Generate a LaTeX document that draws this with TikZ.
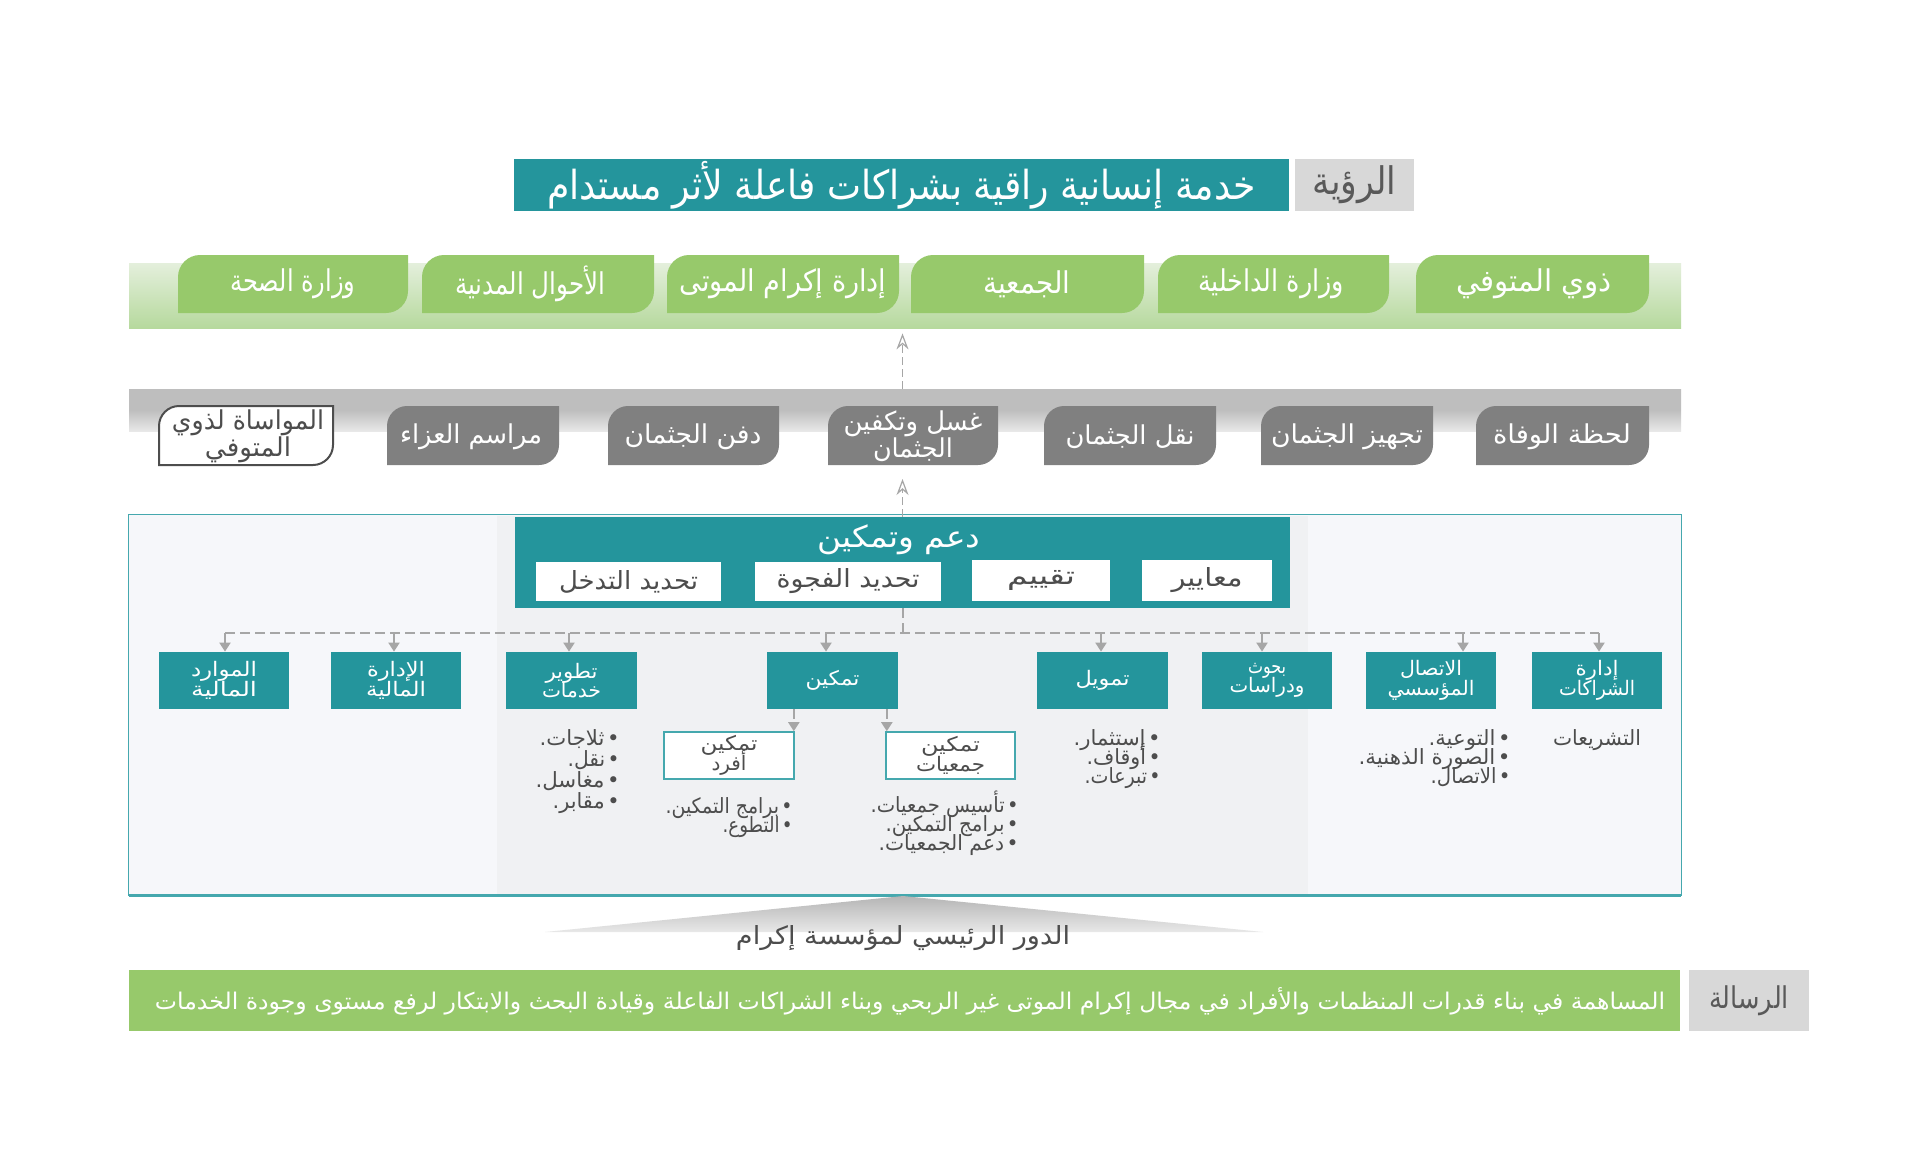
\documentclass[tikz,border=0pt]{standalone}
\usepackage{fontspec}
\usepackage{graphicx}
\usetikzlibrary{arrows.meta,fit}
\newfontfamily\arabicfont[Script=Arabic]{DejaVu Sans}
\TeXXeTstate=1
\newdimen\px \px=0.5pt
\newcommand\ar[1]{{\arabicfont\beginR #1\endR}}
\newcommand\sq[2]{\resizebox{#1\px}{\height}{\ar{#2}}}
\newcommand\fs[2]{\fontsize{#1}{#2}\selectfont\lineskiplimit=-100pt\relax}
\newcommand\bu{•\kern0.12em}
\newcommand\tabpath[5]{({#1},{#4}) -- ({#1},{#2+#5}) .. controls ({#1},{#2+0.45*#5}) and ({#1+0.45*#5},{#2}) .. ({#1+#5},{#2}) -- ({#3},{#2}) -- ({#3},{#4-#5}) .. controls ({#3},{#4-0.45*#5}) and ({#3-0.45*#5},{#4}) .. ({#3-#5},{#4}) -- cycle}
\definecolor{teal1}{HTML}{24959C}
\definecolor{tgreen}{HTML}{97C96B}
\definecolor{tgrey}{HTML}{808080}
\definecolor{lgrey}{HTML}{D8D8D8}
\definecolor{lbltxt}{HTML}{595959}
\definecolor{frameline}{HTML}{45A8AE}
\definecolor{framebg}{HTML}{F6F7FA}
\definecolor{innerbg}{HTML}{F0F1F3}
\definecolor{dgrey}{HTML}{A6A6A6}
\definecolor{txtdark}{HTML}{4D4D4D}
\definecolor{gbartop}{HTML}{E4EFDC}
\definecolor{gbarbot}{HTML}{B6D99D}
\definecolor{sbartop}{HTML}{BEBEBE}
\definecolor{sbarbot}{HTML}{E8E8E8}
\definecolor{tritop}{HTML}{B5B5B5}
\definecolor{tribot}{HTML}{E8E8E8}
\tikzset{
  shp/.style={inner sep=0},
  txt/.style={inner sep=0, align=center},
  gtabtxt/.style={txt, text=white, font=\fs{15}{16}},
  stabtxt/.style={txt, text=white, font=\fs{13}{13.5}},
  tealtxt/.style={txt, text=white, font=\fs{10}{9.7}},
  subtxt/.style={txt, text=txtdark, font=\fs{10}{10}},
  whitetxt/.style={txt, text=txtdark, font=\fs{12.5}{13}},
  bul/.style={inner sep=0, text=txtdark, font=\fs{10.5}{10.5}, text height=7pt, text depth=2pt},
  dline/.style={draw=dgrey, line width=1pt, dash pattern=on 5pt off 2.5pt},
  darr/.style={dline, -{Triangle[length=4.5pt,width=5.5pt]}},
  uparr/.style={draw=dgrey, line width=0.6pt, dash pattern=on 4pt off 2pt, -{Stealth[length=8pt,width=6pt,open]}},
}
\begin{document}
\begin{tikzpicture}[x=0.5pt,y=-0.5pt]
\fill[white] (0,0) rectangle (1920,1148);
\useasboundingbox (0,0) rectangle (1920,1148);

% Vision
\node[shp, fit={(514,159)(1289,211)}, fill=teal1] (vis) {};
\node[txt, text=white, font=\fs{20}{22}] (vist) at (vis.center) {\sq{708}{خدمة إنسانية راقية بشراكات فاعلة لأثر مستدام}};
\node[shp, fit={(1295,159)(1414,211)}, fill=lgrey] (visl) {};
\node[txt, text=lbltxt, font=\fs{19}{20}] (vislt) at (visl.center) {\sq{84}{الرؤية}};

% Green row
\node[shp, fit={(129,263)(1681,328)}, top color=gbartop, bottom color=gbarbot] (gbar) {};
\fill[tgreen] \tabpath{178}{255}{408}{313}{22};
\fill[tgreen] \tabpath{422}{255}{654}{313}{22};
\fill[tgreen] \tabpath{667}{255}{899}{313}{22};
\fill[tgreen] \tabpath{911}{255}{1144}{313}{22};
\fill[tgreen] \tabpath{1158}{255}{1389}{313}{22};
\fill[tgreen] \tabpath{1416}{255}{1649}{313}{22};
\node[gtabtxt] (g1) at (293,284) {\sq{125}{وزارة الصحة}};
\node[gtabtxt] (g2) at (530,284) {\sq{150}{الأحوال المدنية}};
\node[gtabtxt] (g3) at (783,284) {\sq{207}{إدارة إكرام الموتى}};
\node[gtabtxt] (g4) at (1027,284) {\sq{87}{الجمعية}};
\node[gtabtxt] (g5) at (1271,284) {\sq{146}{وزارة الداخلية}};
\node[gtabtxt] (g6) at (1534,284) {\sq{156}{ذوي المتوفي}};

% Grey row
\node[shp, fit={(129,389)(1681,431)}, top color=sbartop, bottom color=sbarbot, middle color=sbartop] (sbar) {};
\filldraw[fill=white, draw=txtdark, line width=1pt] \tabpath{159}{406}{333}{465}{20};
\fill[tgrey] \tabpath{387}{406}{559}{465}{20};
\fill[tgrey] \tabpath{608}{406}{779}{465}{20};
\fill[tgrey] \tabpath{828}{406}{998}{465}{20};
\fill[tgrey] \tabpath{1044}{406}{1216}{465}{20};
\fill[tgrey] \tabpath{1261}{406}{1433}{465}{20};
\fill[tgrey] \tabpath{1476}{406}{1649}{465}{20};
\coordinate (s4b) at (913,465);
\node[stabtxt, text=txtdark] (s1) at (248,436) {\sq{152}{المواساة لذوي}\\\sq{86}{المتوفي}};
\node[stabtxt] (s2) at (471,437) {\sq{142}{مراسم العزاء}};
\node[stabtxt] (s3) at (693,437) {\sq{137}{دفن الجثمان}};
\node[stabtxt] (s4) at (913,436) {\sq{139}{غسل وتكفين}\\\sq{80}{الجثمان}};
\node[stabtxt] (s5) at (1130,437) {\sq{129}{نقل الجثمان}};
\node[stabtxt] (s6) at (1347,437) {\sq{152}{تجهيز الجثمان}};
\node[stabtxt] (s7) at (1562,437) {\sq{138}{لحظة الوفاة}};

% Frame
\node[shp, fit={(129,515)(1681,895)}, fill=framebg] (frame) {};
\fill[innerbg] (497,516) rectangle (1308,894);
\draw[frameline, line width=0.8pt] (frame.south west) rectangle (frame.north east);
\draw[frameline, line width=1.5pt] (frame.south west) -- (frame.south east);

% Support box
\node[shp, fit={(515,517)(1290,608)}, fill=teal1] (dt) {};
\node[txt, text=white, font=\fs{15}{16}] (dtt) at (899,540) {\sq{163}{دعم وتمكين}};
\node[shp, fit={(536,562)(721,601)}, fill=white] (w1) {};
\node[shp, fit={(755,562)(941,601)}, fill=white] (w2) {};
\node[shp, fit={(972,560)(1110,601)}, fill=white] (w3) {};
\node[shp, fit={(1142,560)(1272,601)}, fill=white] (w4) {};
\node[whitetxt] (w1t) at (w1.center) {\sq{139}{تحديد التدخل}};
\node[whitetxt] (w2t) at (w2.center) {\sq{143}{تحديد الفجوة}};
\node[whitetxt] (w3t) at (w3.center) {\sq{68}{تقييم}};
\node[whitetxt] (w4t) at (w4.center) {\sq{71}{معايير}};

% Teal row
\node[shp, fit={(159,652)(289,709)}, fill=teal1] (b1) {};
\node[shp, fit={(331,652)(461,709)}, fill=teal1] (b2) {};
\node[shp, fit={(506,652)(637,709)}, fill=teal1] (b3) {};
\node[shp, fit={(767,652)(898,709)}, fill=teal1] (b4) {};
\node[shp, fit={(1037,652)(1168,709)}, fill=teal1] (b5) {};
\node[shp, fit={(1202,652)(1332,709)}, fill=teal1] (b6) {};
\node[shp, fit={(1366,652)(1496,709)}, fill=teal1] (b7) {};
\node[shp, fit={(1532,652)(1662,709)}, fill=teal1] (b8) {};
\node[tealtxt] (b1t) at (b1.center) {\sq{66}{الموارد}\\\sq{66}{المالية}};
\node[tealtxt] (b2t) at (b2.center) {\sq{58}{الإدارة}\\\sq{60}{المالية}};
\node[tealtxt] (b3t) at (b3.center) {\sq{52}{تطوير}\\\sq{59}{خدمات}};
\node[tealtxt] (b4t) at (b4.center) {\sq{54}{تمكين}};
\node[tealtxt] (b5t) at (b5.center) {\sq{54}{تمويل}};
\node[tealtxt] (b6t) at (b6.center) {\sq{38}{بحوث}\\\sq{75}{ودراسات}};
\node[tealtxt] (b7t) at (b7.center) {\sq{62}{الاتصال}\\\sq{87}{المؤسسي}};
\node[tealtxt] (b8t) at (b8.center) {\sq{43}{إدارة}\\\sq{76}{الشراكات}};

% Sub boxes
\node[shp, fit={(664,732)(794,779)}, fill=white, draw=frameline, line width=0.8pt] (af) {};
\node[shp, fit={(886,732)(1015,779)}, fill=white, draw=frameline, line width=0.8pt] (jm) {};
\node[subtxt] (aft) at (af.center) {\sq{57}{تمكين}\\\sq{35}{أفرد}};
\node[subtxt] (jmt) at (jm.center) {\sq{59}{تمكين}\\\sq{69}{جمعيات}};

% Connectors
\draw[uparr, shorten >=2.5pt] (sbar.north -| dt.north) -- (gbar.south -| dt.north);
\draw[uparr, shorten >=7pt] (dt.north) -- (dt.north |- s4b);
\coordinate (h1) at (225,633);
\coordinate (h2) at (394,633);
\coordinate (h3) at (569,633);
\coordinate (h4) at (826,633);
\coordinate (h5) at (1101,633);
\coordinate (h6) at (1262,633);
\coordinate (h7) at (1463,633);
\coordinate (h8) at (1599,633);
\draw[dline] (dt.south) -- (dt.south |- h1);
\draw[dline] (h1) -- (h8);
\foreach \i in {1,...,8} {\draw[darr] (h\i) -- (h\i |- b\i.north);}
\draw[darr] ([xshift=-0.5pt]b4.south -| af.north east) -- ([xshift=-0.5pt]af.north east);
\draw[darr] ([xshift=0.8pt]b4.south -| jm.north west) -- ([xshift=0.8pt]jm.north west);

% Bullets
\node[bul, anchor=east] (l1a) at (620,740) {\sq{80}{\bu ثلاجات.}};
\node[bul, anchor=east] (l1b) at (620,761) {\sq{52}{\bu نقل.}};
\node[bul, anchor=east] (l1c) at (620,782) {\sq{84}{\bu مغاسل.}};
\node[bul, anchor=east] (l1d) at (620,803) {\sq{67}{\bu مقابر.}};
\node[bul, anchor=east] (l2a) at (793,808) {\sq{127}{\bu برامج التمكين.}};
\node[bul, anchor=east] (l2b) at (793,827) {\sq{70}{\bu التطوع.}};
\node[bul, anchor=east] (l3a) at (1019,807) {\sq{148}{\bu تأسيس جمعيات.}};
\node[bul, anchor=east] (l3b) at (1019,826) {\sq{133}{\bu برامج التمكين.}};
\node[bul, anchor=east] (l3c) at (1019,845) {\sq{140}{\bu دعم الجمعيات.}};
\node[bul, anchor=east] (l4a) at (1161,740) {\sq{87}{\bu إستثمار.}};
\node[bul, anchor=east] (l4b) at (1161,759) {\sq{74}{\bu أوقاف.}};
\node[bul, anchor=east] (l4c) at (1161,778) {\sq{76}{\bu تبرعات.}};
\node[bul, anchor=east] (l5a) at (1511,740) {\sq{82}{\bu التوعية.}};
\node[bul, anchor=east] (l5b) at (1511,759) {\sq{152}{\bu الصورة الذهنية.}};
\node[bul, anchor=east] (l5c) at (1511,778) {\sq{80}{\bu الاتصال.}};
\node[bul] (l6) at (1597,740) {\sq{88}{التشريعات}};

% Role triangle
\shade[top color=tritop, bottom color=tribot] (903,896) -- (1263,932) -- (545,932) -- cycle;
\node[txt, text=txtdark, font=\fs{12.5}{13}] (role) at (903,938) {\sq{334}{الدور الرئيسي لمؤسسة إكرام}};

% Mission
\node[shp, fit={(129,970)(1680,1031)}, fill=tgreen] (mis) {};
\node[txt, text=white, font=\fs{11.5}{13}] (mist) at (910,1001) {\sq{1510}{المساهمة في بناء قدرات المنظمات والأفراد في مجال إكرام الموتى غير الربحي وبناء الشراكات الفاعلة وقيادة البحث والابتكار لرفع مستوى وجودة الخدمات}};
\node[shp, fit={(1689,970)(1809,1031)}, fill=lgrey] (misl) {};
\node[txt, text=lbltxt, font=\fs{15}{16}] (mislt) at (misl.center) {\sq{80}{الرسالة}};
\end{tikzpicture}
\end{document}
